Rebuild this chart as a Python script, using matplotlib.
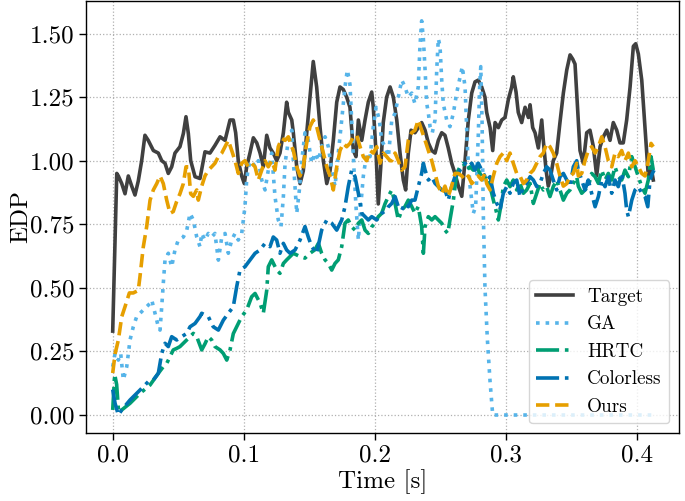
import matplotlib
matplotlib.use('Agg')
import matplotlib.pyplot as plt

# ---------------- data ----------------
target_t = [
    0.0000, 0.0031, 0.0043, 0.0069, 0.0094, 0.0119, 0.0145, 0.0170, 0.0195, 0.0221,
    0.0246, 0.0271, 0.0310, 0.0348, 0.0374, 0.0399, 0.0424, 0.0450, 0.0475, 0.0513,
    0.0539, 0.0559, 0.0577, 0.0595, 0.0628, 0.0666, 0.0704, 0.0742, 0.0780, 0.0819,
    0.0857, 0.0895, 0.0920, 0.0938, 0.0958, 0.0984, 0.1004, 0.1022, 0.1047, 0.1073,
    0.1099, 0.1124, 0.1149, 0.1175, 0.1200, 0.1225, 0.1251, 0.1276, 0.1302, 0.1327,
    0.1340, 0.1366, 0.1378, 0.1404, 0.1429, 0.1454, 0.1480, 0.1505, 0.1530, 0.1556,
    0.1582, 0.1607, 0.1633, 0.1658, 0.1683, 0.1709, 0.1734, 0.1759, 0.1785, 0.1810,
    0.1836, 0.1856, 0.1874, 0.1900, 0.1925, 0.1950, 0.1976, 0.1988, 0.2009, 0.2026,
    0.2045, 0.2064, 0.2090, 0.2116, 0.2141, 0.2167, 0.2192, 0.2217, 0.2235, 0.2255,
    0.2276, 0.2306, 0.2331, 0.2357, 0.2383, 0.2408, 0.2434, 0.2459, 0.2484, 0.2510,
    0.2535, 0.2560, 0.2586, 0.2611, 0.2637, 0.2663, 0.2688, 0.2713, 0.2739, 0.2764,
    0.2789, 0.2815, 0.2840, 0.2853, 0.2879, 0.2899, 0.2917, 0.2942, 0.2968, 0.2993,
    0.3018, 0.3044, 0.3056, 0.3077, 0.3094, 0.3120, 0.3146, 0.3171, 0.3184, 0.3204,
    0.3222, 0.3247, 0.3273, 0.3285, 0.3306, 0.3323, 0.3342, 0.3361, 0.3387, 0.3412,
    0.3438, 0.3464, 0.3489, 0.3509, 0.3527, 0.3552, 0.3565, 0.3590, 0.3616, 0.3641,
    0.3667, 0.3692, 0.3718, 0.3743, 0.3769, 0.3794, 0.3819, 0.3845, 0.3870, 0.3895,
    0.3921, 0.3947, 0.3972, 0.3990, 0.4010, 0.4036, 0.4061, 0.4086, 0.4107, 0.4124,
]
target_y = [
    0.33, 0.95, 0.94, 0.91, 0.87, 0.94, 0.90, 0.865, 0.92, 1.00,
    1.10, 1.08, 1.04, 1.03, 1.00, 0.99, 0.95, 0.976, 1.03, 1.055,
    1.107, 1.173, 1.107, 1.00, 0.937, 0.93, 1.035, 1.03, 1.06, 1.094,
    1.08, 1.16, 1.16, 1.11, 1.00, 0.94, 0.91, 0.976, 1.03, 1.09,
    1.07, 1.03, 0.976, 1.10, 1.05, 1.03, 1.00, 1.03, 1.11, 1.23,
    1.19, 1.16, 1.11, 0.976, 0.91, 0.96, 1.11, 1.25, 1.39, 1.29,
    1.13, 1.00, 0.91, 0.96, 1.08, 1.23, 1.29, 1.28, 1.25, 1.21,
    1.04, 1.016, 1.16, 1.08, 1.16, 1.23, 1.27, 1.21, 1.03, 0.83,
    0.976, 1.15, 1.25, 1.29, 1.25, 1.16, 1.03, 0.924, 0.885, 1.03,
    1.12, 1.11, 1.13, 1.15, 1.12, 1.07, 1.04, 1.03, 1.08, 1.11,
    1.10, 1.05, 0.99, 0.95, 0.90, 0.86, 1.00, 1.16, 1.266, 1.31,
    1.317, 1.29, 1.25, 1.19, 1.13, 1.04, 1.15, 1.13, 1.16, 1.17,
    1.24, 1.29, 1.33, 1.27, 1.19, 1.15, 1.21, 1.17, 1.22, 1.13,
    1.11, 1.05, 1.16, 1.08, 0.963, 0.90, 0.94, 1.00, 1.03, 1.15,
    1.266, 1.357, 1.416, 1.40, 1.38, 1.16, 1.04, 0.99, 1.11, 1.12,
    1.055, 0.94, 1.055, 1.094, 1.12, 1.08, 1.15, 1.12, 1.07, 1.07,
    1.16, 1.29, 1.45, 1.46, 1.42, 1.317, 1.13, 0.94, 0.976, 0.924,
]

ga_t = [
    0.0000, 0.0018, 0.0043, 0.0061, 0.0081, 0.0107, 0.0132, 0.0157, 0.0183, 0.0208,
    0.0233, 0.0259, 0.0285, 0.0298, 0.0323, 0.0348, 0.0361, 0.0374, 0.0386, 0.0399,
    0.0424, 0.0450, 0.0475, 0.0500, 0.0539, 0.0565, 0.0590, 0.0615, 0.0641, 0.0666,
    0.0679, 0.0704, 0.0729, 0.0755, 0.0780, 0.0806, 0.0832, 0.0857, 0.0882, 0.0908,
    0.0933, 0.0958, 0.0984, 0.1009, 0.1022, 0.1035, 0.1060, 0.1086, 0.1111, 0.1137,
    0.1162, 0.1187, 0.1213, 0.1238, 0.1263, 0.1284, 0.1302, 0.1315, 0.1340, 0.1366,
    0.1378, 0.1404, 0.1424, 0.1442, 0.1467, 0.1492, 0.1518, 0.1543, 0.1569, 0.1594,
    0.1620, 0.1645, 0.1671, 0.1696, 0.1721, 0.1747, 0.1772, 0.1790, 0.1810, 0.1823,
    0.1841, 0.1856, 0.1874, 0.1892, 0.1912, 0.1938, 0.1963, 0.1988, 0.2009, 0.2034,
    0.2052, 0.2077, 0.2103, 0.2129, 0.2154, 0.2179, 0.2205, 0.2230, 0.2255, 0.2281,
    0.2306, 0.2331, 0.2344, 0.2357, 0.2370, 0.2383, 0.2396, 0.2408, 0.2421, 0.2438,
    0.2459, 0.2472, 0.2484, 0.2497, 0.2510, 0.2522, 0.2548, 0.2573, 0.2599, 0.2624,
    0.2650, 0.2667, 0.2688, 0.2708, 0.2726, 0.2751, 0.2769, 0.2789, 0.2800, 0.2808,
    0.2818, 0.2827, 0.2840, 0.2858, 0.2879, 0.2899, 0.4124,
]
ga_y = [
    0.19, 0.242, 0.216, 0.242, 0.138, 0.19, 0.295, 0.347, 0.387, 0.40,
    0.413, 0.426, 0.439, 0.452, 0.40, 0.347, 0.334, 0.426, 0.518, 0.609,
    0.636, 0.583, 0.649, 0.688, 0.70, 0.727, 0.793, 0.767, 0.70, 0.662,
    0.714, 0.688, 0.714, 0.70, 0.714, 0.609, 0.70, 0.714, 0.636, 0.688,
    0.714, 0.688, 0.714, 0.819, 0.924, 0.976, 1.00, 0.976, 1.00, 0.924,
    0.885, 0.963, 1.03, 0.859, 0.767, 0.741, 0.859, 0.99, 1.08, 1.12,
    1.00, 0.793, 0.885, 1.00, 1.11, 1.08, 0.99, 1.03, 1.00, 1.055,
    1.094, 1.055, 0.963, 0.90, 1.03, 1.16, 1.29, 1.357, 1.30, 1.16,
    0.963, 0.82, 0.688, 0.82, 0.94, 1.03, 1.016, 1.134, 1.21, 1.16,
    1.08, 1.055, 1.016, 1.16, 1.187, 1.25, 1.317, 1.29, 1.25, 1.266,
    1.224, 1.29, 1.45, 1.55, 1.48, 1.357, 1.224, 1.187, 1.134, 1.11,
    1.16, 1.357, 1.48, 1.45, 1.317, 1.224, 1.16, 1.134, 1.187, 1.266,
    1.33, 1.37, 1.29, 1.03, 0.90, 0.793, 0.82, 1.10, 1.30, 1.37,
    1.15, 0.80, 0.50, 0.30, 0.13, 0.0, 0.0,
]

hrtc_t = [
    0.0000, 0.0015, 0.0030, 0.0045, 0.0132, 0.0208, 0.0285, 0.0348, 0.0386, 0.0412,
    0.0437, 0.0462, 0.0488, 0.0513, 0.0539, 0.0565, 0.0590, 0.0615, 0.0641, 0.0679,
    0.0704, 0.0729, 0.0755, 0.0780, 0.0819, 0.0844, 0.0870, 0.0895, 0.0920, 0.0946,
    0.0984, 0.1022, 0.1060, 0.1086, 0.1124, 0.1149, 0.1175, 0.1187, 0.1213, 0.1251,
    0.1276, 0.1302, 0.1327, 0.1353, 0.1378, 0.1429, 0.1467, 0.1505, 0.1543, 0.1569,
    0.1594, 0.1620, 0.1645, 0.1671, 0.1696, 0.1721, 0.1747, 0.1772, 0.1797, 0.1823,
    0.1849, 0.1874, 0.1900, 0.1925, 0.1950, 0.1976, 0.2001, 0.2026, 0.2052, 0.2077,
    0.2103, 0.2129, 0.2154, 0.2179, 0.2205, 0.2230, 0.2255, 0.2281, 0.2306, 0.2331,
    0.2357, 0.2370, 0.2383, 0.2408, 0.2434, 0.2459, 0.2484, 0.2510, 0.2535, 0.2556,
    0.2573, 0.2599, 0.2624, 0.2650, 0.2675, 0.2701, 0.2726, 0.2751, 0.2777, 0.2802,
    0.2827, 0.2853, 0.2879, 0.2904, 0.2930, 0.2942, 0.2960, 0.2980, 0.3006, 0.3031,
    0.3056, 0.3082, 0.3107, 0.3133, 0.3158, 0.3184, 0.3209, 0.3235, 0.3260, 0.3285,
    0.3311, 0.3336, 0.3361, 0.3387, 0.3412, 0.3438, 0.3464, 0.3489, 0.3514, 0.3540,
    0.3552, 0.3578, 0.3603, 0.3628, 0.3654, 0.3680, 0.3705, 0.3731, 0.3756, 0.3781,
    0.3807, 0.3832, 0.3857, 0.3883, 0.3908, 0.3934, 0.3960, 0.3985, 0.4010, 0.4036,
    0.4061, 0.4086, 0.4107, 0.4124,
]
hrtc_y = [
    0.02, 0.16, 0.12, 0.01, 0.046, 0.085, 0.118, 0.164, 0.19, 0.203,
    0.229, 0.256, 0.262, 0.269, 0.282, 0.295, 0.308, 0.321, 0.308, 0.256,
    0.28, 0.308, 0.295, 0.269, 0.256, 0.242, 0.216, 0.256, 0.32, 0.347,
    0.387, 0.413, 0.465, 0.478, 0.44, 0.40, 0.49, 0.583, 0.61, 0.57,
    0.557, 0.596, 0.61, 0.623, 0.636, 0.623, 0.617, 0.636, 0.65, 0.675,
    0.636, 0.61, 0.596, 0.57, 0.596, 0.61, 0.662, 0.754, 0.767, 0.74,
    0.727, 0.754, 0.767, 0.727, 0.714, 0.74, 0.754, 0.78, 0.793, 0.83,
    0.86, 0.885, 0.832, 0.767, 0.806, 0.82, 0.845, 0.82, 0.793, 0.82,
    0.741, 0.636, 0.741, 0.78, 0.767, 0.78, 0.767, 0.754, 0.727, 0.714,
    0.767, 0.845, 0.95, 0.976, 0.99, 0.963, 0.976, 0.963, 0.976, 0.95,
    0.924, 0.94, 0.898, 0.845, 0.793, 0.767, 0.819, 0.898, 0.924, 0.898,
    0.924, 0.885, 0.911, 0.872, 0.885, 0.911, 0.832, 0.872, 0.911, 0.885,
    0.898, 0.859, 0.898, 0.924, 0.885, 0.845, 0.872, 0.885, 0.911, 0.937,
    0.90, 0.872, 0.885, 0.898, 0.95, 0.937, 0.911, 0.963, 0.924, 0.95,
    0.924, 0.976, 0.937, 0.924, 0.963, 0.937, 1.016, 0.976, 0.937, 0.898,
    0.872, 0.924, 1.016, 0.963,
]

colorless_t = [
    0.0000, 0.0018, 0.0043, 0.0069, 0.0132, 0.0208, 0.0271, 0.0310, 0.0348, 0.0374,
    0.0399, 0.0424, 0.0450, 0.0488, 0.0526, 0.0565, 0.0590, 0.0628, 0.0666, 0.0679,
    0.0729, 0.0767, 0.0806, 0.0844, 0.0882, 0.0920, 0.0946, 0.0971, 0.1009, 0.1047,
    0.1086, 0.1124, 0.1162, 0.1200, 0.1225, 0.1251, 0.1276, 0.1302, 0.1327, 0.1353,
    0.1391, 0.1429, 0.1467, 0.1492, 0.1518, 0.1556, 0.1594, 0.1633, 0.1671, 0.1709,
    0.1747, 0.1772, 0.1797, 0.1823, 0.1849, 0.1874, 0.1900, 0.1925, 0.1950, 0.1976,
    0.2014, 0.2052, 0.2090, 0.2103, 0.2129, 0.2154, 0.2179, 0.2205, 0.2230, 0.2255,
    0.2281, 0.2306, 0.2331, 0.2357, 0.2370, 0.2383, 0.2408, 0.2434, 0.2459, 0.2484,
    0.2510, 0.2535, 0.2560, 0.2586, 0.2611, 0.2637, 0.2663, 0.2688, 0.2713, 0.2739,
    0.2764, 0.2789, 0.2815, 0.2840, 0.2853, 0.2879, 0.2904, 0.2930, 0.2955, 0.2980,
    0.3006, 0.3031, 0.3056, 0.3082, 0.3107, 0.3133, 0.3158, 0.3184, 0.3209, 0.3235,
    0.3260, 0.3285, 0.3311, 0.3336, 0.3361, 0.3387, 0.3412, 0.3438, 0.3464, 0.3489,
    0.3514, 0.3540, 0.3552, 0.3578, 0.3603, 0.3628, 0.3654, 0.3680, 0.3705, 0.3731,
    0.3756, 0.3781, 0.3807, 0.3832, 0.3857, 0.3883, 0.3908, 0.3921, 0.3934, 0.3960,
    0.3985, 0.4010, 0.4036, 0.4061, 0.4082, 0.4099, 0.4117, 0.4130,
]
colorless_y = [
    0.10, 0.046, 0.0, 0.02, 0.059, 0.098, 0.131, 0.138, 0.164, 0.242,
    0.282, 0.269, 0.308, 0.295, 0.308, 0.321, 0.347, 0.36, 0.387, 0.40,
    0.387, 0.347, 0.334, 0.373, 0.40, 0.426, 0.505, 0.57, 0.583, 0.609,
    0.636, 0.649, 0.675, 0.662, 0.70, 0.688, 0.636, 0.675, 0.649, 0.636,
    0.649, 0.688, 0.741, 0.70, 0.662, 0.636, 0.727, 0.767, 0.754, 0.727,
    0.767, 0.819, 0.898, 0.963, 0.937, 0.872, 0.793, 0.78, 0.767, 0.78,
    0.767, 0.793, 0.806, 0.819, 0.832, 0.859, 0.819, 0.806, 0.832, 0.819,
    0.845, 0.845, 0.898, 0.95, 0.99, 0.963, 0.924, 0.937, 0.911, 0.898,
    0.885, 0.885, 0.845, 0.898, 0.937, 0.95, 0.976, 0.99, 0.976, 0.99,
    0.963, 0.99, 0.963, 0.937, 0.924, 0.937, 0.872, 0.832, 0.806, 0.872,
    0.898, 0.872, 0.911, 0.924, 0.859, 0.898, 0.911, 0.937, 0.924, 0.898,
    0.911, 0.95, 0.976, 0.963, 0.924, 0.885, 0.937, 0.95, 0.924, 0.898,
    0.976, 1.00, 0.963, 0.924, 0.885, 0.924, 0.872, 0.819, 0.859, 0.924,
    0.898, 0.937, 0.872, 0.924, 0.898, 0.95, 0.872, 0.806, 0.78, 0.845,
    0.885, 0.898, 0.872, 0.859, 0.819, 0.924, 0.95, 0.963,
]

ours_t = [
    0.0000, 0.0018, 0.0043, 0.0069, 0.0094, 0.0127, 0.0157, 0.0195, 0.0208, 0.0233,
    0.0259, 0.0285, 0.0310, 0.0336, 0.0361, 0.0386, 0.0412, 0.0437, 0.0462, 0.0488,
    0.0513, 0.0539, 0.0559, 0.0577, 0.0595, 0.0615, 0.0641, 0.0653, 0.0679, 0.0704,
    0.0729, 0.0755, 0.0780, 0.0806, 0.0832, 0.0857, 0.0882, 0.0908, 0.0933, 0.0958,
    0.0984, 0.1009, 0.1035, 0.1060, 0.1086, 0.1111, 0.1137, 0.1162, 0.1187, 0.1213,
    0.1238, 0.1263, 0.1289, 0.1315, 0.1340, 0.1366, 0.1378, 0.1404, 0.1429, 0.1454,
    0.1480, 0.1505, 0.1530, 0.1556, 0.1582, 0.1607, 0.1633, 0.1658, 0.1683, 0.1709,
    0.1734, 0.1759, 0.1785, 0.1810, 0.1836, 0.1861, 0.1887, 0.1912, 0.1938, 0.1963,
    0.1988, 0.2014, 0.2039, 0.2064, 0.2090, 0.2116, 0.2129, 0.2154, 0.2179, 0.2205,
    0.2230, 0.2255, 0.2281, 0.2306, 0.2331, 0.2357, 0.2383, 0.2408, 0.2434, 0.2459,
    0.2484, 0.2510, 0.2535, 0.2560, 0.2586, 0.2611, 0.2637, 0.2663, 0.2688, 0.2713,
    0.2739, 0.2764, 0.2789, 0.2815, 0.2840, 0.2853, 0.2879, 0.2904, 0.2930, 0.2955,
    0.2980, 0.3006, 0.3031, 0.3056, 0.3082, 0.3107, 0.3133, 0.3158, 0.3184, 0.3209,
    0.3235, 0.3260, 0.3285, 0.3311, 0.3336, 0.3361, 0.3387, 0.3412, 0.3438, 0.3464,
    0.3489, 0.3514, 0.3540, 0.3552, 0.3578, 0.3603, 0.3628, 0.3654, 0.3680, 0.3705,
    0.3731, 0.3756, 0.3781, 0.3807, 0.3832, 0.3857, 0.3883, 0.3908, 0.3934, 0.3960,
    0.3985, 0.4010, 0.4036, 0.4061, 0.4086, 0.4107, 0.4124,
]
ours_y = [
    0.165, 0.24, 0.295, 0.387, 0.426, 0.48, 0.48, 0.49, 0.544, 0.66,
    0.74, 0.845, 0.885, 0.91, 0.94, 0.91, 0.845, 0.793, 0.80, 0.84,
    0.87, 0.91, 0.976, 0.976, 0.87, 0.86, 0.885, 0.845, 0.90, 0.94,
    0.963, 0.976, 0.99, 1.016, 1.03, 1.055, 1.08, 1.04, 1.00, 0.95,
    0.99, 1.00, 0.976, 0.99, 0.976, 0.924, 0.963, 1.00, 0.976, 1.00,
    0.963, 1.055, 1.088, 1.08, 1.094, 1.055, 1.04, 0.976, 0.94, 0.976,
    1.07, 1.134, 1.16, 1.134, 1.08, 1.03, 0.976, 0.94, 0.885, 0.976,
    1.04, 1.068, 1.055, 1.068, 1.094, 1.10, 1.055, 1.016, 1.00, 1.04,
    1.03, 1.055, 0.99, 1.03, 1.016, 1.00, 1.00, 1.03, 1.00, 0.963,
    0.976, 1.08, 1.11, 1.12, 1.16, 1.12, 1.08, 1.04, 1.00, 0.95,
    0.90, 0.87, 0.90, 0.86, 0.90, 0.95, 0.95, 0.94, 0.924, 0.94,
    0.91, 0.924, 0.94, 0.924, 0.95, 0.91, 0.885, 0.94, 0.99, 1.016,
    1.03, 1.00, 1.03, 0.99, 0.95, 0.94, 0.91, 0.924, 0.95, 0.963,
    0.99, 1.016, 1.03, 1.068, 1.055, 1.03, 0.99, 0.94, 0.90, 0.91,
    0.94, 0.95, 0.99, 0.94, 0.95, 1.00, 1.04, 1.055, 1.03, 1.055,
    1.094, 1.055, 1.00, 0.976, 1.03, 1.016, 1.04, 1.00, 1.03, 0.976,
    1.00, 0.976, 0.95, 0.94, 1.00, 1.068, 1.055,
]

series_labels = ["Target", "GA", "HRTC", "Colorless", "Ours"]
x_ticks = [0.0, 0.1, 0.2, 0.3, 0.4]
y_ticks = [0.00, 0.25, 0.50, 0.75, 1.00, 1.25, 1.50]

# ---------------- style ----------------
plt.rcParams['font.family'] = 'cmr10'
plt.rcParams['mathtext.fontset'] = 'cm'
plt.rcParams['axes.formatter.use_mathtext'] = True

fig = plt.figure(figsize=(6.85, 5.01), dpi=100)
ax = fig.add_axes([0.1255, 0.1357, 0.8657, 0.8623])

lw = 2.6
ax.plot(target_t, target_y, color='#404040', lw=lw, ls='-', label=series_labels[0])
ax.plot(ga_t, ga_y, color='#56b4e9', lw=lw, ls=':', label=series_labels[1])
ax.plot(hrtc_t, hrtc_y, color='#009e73', lw=lw, ls='-.', label=series_labels[2])
ax.plot(colorless_t, colorless_y, color='#0072b2', lw=lw, ls='-.', label=series_labels[3])
ax.plot(ours_t, ours_y, color='#e69f00', lw=lw, ls='--', label=series_labels[4])

ax.set_xlim(-0.0204, 0.432)
ax.set_ylim(-0.0708, 1.628)
ax.set_xticks(x_ticks)
ax.set_yticks(y_ticks)
ax.set_xticklabels([f"{v:.1f}" for v in x_ticks])
ax.set_yticklabels([f"{v:.2f}" for v in y_ticks])

ax.set_axisbelow(True)
ax.grid(True, ls=':', color='#b0b0b0', lw=0.9)
ax.tick_params(labelsize=18, length=5, width=1, direction='out')
for s in ax.spines.values():
    s.set_linewidth(1.0)

ax.set_xlabel("Time [s]", fontsize=18, labelpad=2)
ax.set_ylabel("EDP", fontsize=18, labelpad=-2)

leg = ax.legend(loc='lower right', fontsize=13.8, framealpha=0.8, edgecolor='0.8',
                fancybox=True, handlelength=1.9, handletextpad=0.75)

fig.savefig('out.png', dpi=100)
